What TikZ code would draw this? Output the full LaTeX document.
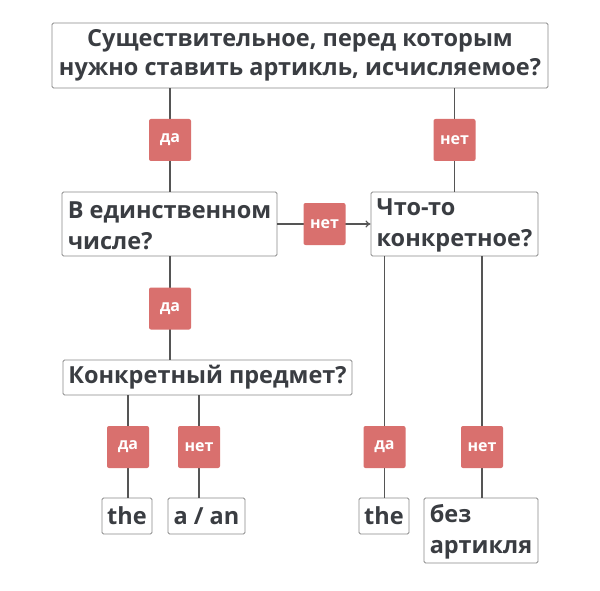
\documentclass[tikz,border=0pt]{standalone}
\usepackage{fontspec}
\setmainfont{Open Sans}
\usetikzlibrary{arrows.meta}
\definecolor{txt}{HTML}{3A3D42}
\definecolor{badgec}{HTML}{D9706E}
\definecolor{boxline}{HTML}{8A8A8A}
\definecolor{conn}{HTML}{555555}
\tikzset{
  qbox/.style={draw=boxline, line width=0.9pt, rounded corners=1.5pt, fill=white, text=txt,
    font=\fontsize{23.5}{31}\selectfont\bfseries, inner sep=0pt, anchor=center},
  badge/.style={fill=badgec, rounded corners=2pt, minimum width=42pt, minimum height=42pt,
    inner sep=0pt, text=white, font=\fontsize{16}{18}\selectfont\bfseries},
  conn/.style={draw=conn, line width=1.2pt},
}
\begin{document}
\begin{tikzpicture}[x=1pt,y=-1pt]
\useasboundingbox (0,0) rectangle (600,591);
\fill[white] (0,0) rectangle (600,591);
% boxes
\node[qbox, minimum width=496pt, minimum height=65pt, align=center,
  font=\fontsize{23.5}{28.5}\selectfont\bfseries] (top) at (300,55.5)
  {Существительное, перед которым\\нужно ставить артикль, исчисляемое?};
\node[qbox, minimum width=215pt, minimum height=64pt, align=left] (lbox) at (169.5,224)
  {\rule{0pt}{20pt}В единственном\\числе?};
\node[qbox, minimum width=167pt, minimum height=64pt, align=left] (rbox) at (454.5,224)
  {\rule{0pt}{20pt}Что-то\\конкретное?};
\node[qbox, minimum width=289pt, minimum height=35pt, align=center] (konk) at (207.5,377.5)
  {Конкретный предмет?};
\node[qbox, minimum width=50pt, minimum height=36pt, align=center] (the1) at (127,516) {the};
\node[qbox, minimum width=77pt, minimum height=36pt, align=center] (aan) at (206.5,516) {a / an};
\node[qbox, minimum width=50pt, minimum height=36pt, align=center] (the2) at (384,516) {the};
\node[qbox, minimum width=114pt, minimum height=65pt, align=left] (bez) at (481,530.5)
  {\rule{0pt}{20pt}без\\артикля};
% badge positions
\coordinate (p1) at (170,140);
\coordinate (p2) at (454.5,140);
\coordinate (p3) at (324.5,224);
\coordinate (p4) at (170,308.5);
\coordinate (p5) at (128,447);
\coordinate (p6) at (199,447);
\coordinate (p7) at (384.5,447);
\coordinate (p8) at (482,447);
% connectors
\draw[conn] (p1 |- top.south) -- (p1 |- lbox.north);
\draw[conn] (p2 |- top.south) -- (p2 |- rbox.north);
\draw[conn, -{To[length=5pt,width=7pt]}] (lbox.east) -- (rbox.west);
\draw[conn] (p4 |- lbox.south) -- (p4 |- konk.north);
\draw[conn] (p5 |- konk.south) -- (p5 |- the1.north);
\draw[conn] (p6 |- konk.south) -- (p6 |- aan.north);
\draw[conn] (p7 |- rbox.south) -- (p7 |- the2.north);
\draw[conn] (p8 |- rbox.south) -- (p8 |- bez.north);
% badges
\node[badge] (b1) at (p1) {да};
\node[badge] (b2) at (p2) {нет};
\node[badge] (b3) at (p3) {нет};
\node[badge] (b4) at (p4) {да};
\node[badge] (b5) at (p5) {да};
\node[badge] (b6) at (p6) {нет};
\node[badge] (b7) at (p7) {да};
\node[badge] (b8) at (p8) {нет};
\end{tikzpicture}
\end{document}
